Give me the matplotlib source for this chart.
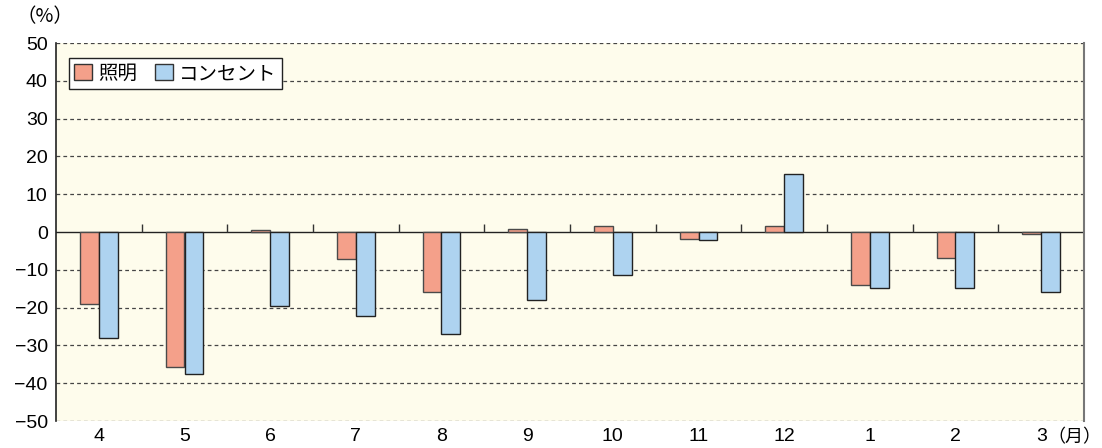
import matplotlib
matplotlib.use("Agg")
import matplotlib.pyplot as plt
import numpy as np
from matplotlib.patches import Patch

plt.rcParams['font.family'] = ['Liberation Sans', 'Noto Sans CJK JP', 'DejaVu Sans']

months = ["4", "5", "6", "7", "8", "9", "10", "11", "12", "1", "2", "3"]
lighting = [-19.1, -35.6, 0.6, -7.1, -15.9, 0.8, 1.6, -1.9, 1.6, -14.1, -7.0, -0.5]
outlet = [-28.0, -37.5, -19.5, -22.3, -27.0, -18.0, -11.5, -2.2, 15.3, -14.8, -14.8, -15.9]
series_names = ["照明", "コンセント"]
yticks = np.arange(-50, 51, 10)

c_light = "#F4A08A"
c_outlet = "#AED3F0"
bg = "#FEFCEC"

fig = plt.figure(figsize=(11.02, 4.48), dpi=100)
ax = fig.add_axes([56 / 1102, 27 / 448, 1028 / 1102, 378 / 448])
ax.set_facecolor(bg)

x = np.arange(len(months))
w = 0.22
ax.bar(x - w / 2, lighting, w, color=c_light, edgecolor="#4a4a4a", linewidth=1.0, zorder=3)
ax.bar(x + w / 2, outlet, w, color=c_outlet, edgecolor="#222222", linewidth=1.0, zorder=3)

# dashed grid, solid zero line with small ticks at group boundaries
for y in yticks:
    if y != 0:
        ax.axhline(y, color="#444444", linestyle=(0, (3, 2.5)), linewidth=0.9, zorder=1)
ax.axhline(0, color="#222222", linewidth=1.0, zorder=2)
bounds = np.arange(len(months) + 1) - 0.5
ax.vlines(bounds[1:-1], 0, 2.0, color="#333333", linewidth=1.0, zorder=2)

ax.set_xlim(-0.5, len(months) - 0.5)
ax.set_ylim(-50, 50)
ax.set_yticks(yticks)
ax.set_yticklabels([str(v).replace("-", "−") for v in yticks], fontsize=14)
ax.set_xticks(x)
ax.set_xticklabels(months, fontsize=14)
ax.tick_params(axis="x", length=0, pad=5)
ax.tick_params(axis="y", length=0, pad=6)

for side in ["top", "bottom"]:
    ax.spines[side].set_visible(False)
ax.spines["left"].set_color("#222222")
ax.spines["left"].set_linewidth(1.2)
ax.spines["right"].set_color("#777777")
ax.spines["right"].set_linewidth(1.5)

fig.text(16 / 1102, 1 - 17 / 448, "（%）", fontsize=14, va="center", ha="left",
         family=["Noto Sans CJK JP"])
fig.text(1047 / 1102, 1 - 437 / 448, "（月）", fontsize=13, va="center", ha="left",
         family=["Noto Sans CJK JP"])

handles = [Patch(facecolor=c_light, edgecolor="#333333", label=series_names[0]),
           Patch(facecolor=c_outlet, edgecolor="#333333", label=series_names[1])]
leg = ax.legend(handles=handles, loc="upper left", bbox_to_anchor=(0.013, 0.96), ncol=2,
                borderaxespad=0, frameon=True, fancybox=False, edgecolor="#222222",
                framealpha=1, handlelength=0.9, handleheight=0.9, handletextpad=0.35,
                columnspacing=0.9, borderpad=0.25,
                prop={"family": ["Noto Sans CJK JP"], "size": 14})
leg.get_frame().set_linewidth(1.0)
leg.get_frame().set_facecolor("white")

fig.savefig("out.png", dpi=100)
